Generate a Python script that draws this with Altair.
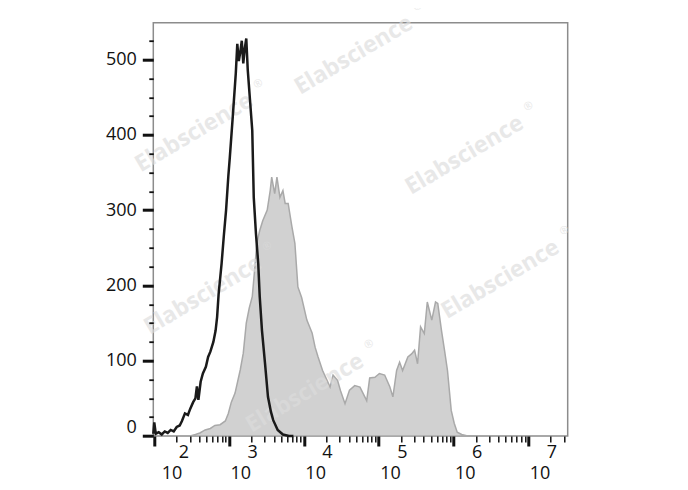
import altair as alt
import pandas as pd

# Unstained control (black line): log10 fluorescence position and event count
black_log = [1.987, 2.00, 2.02, 2.06, 2.10, 2.14, 2.18, 2.22, 2.26, 2.30, 2.34, 2.37, 2.41, 2.45, 2.48,
             2.52, 2.55, 2.57, 2.59, 2.62, 2.65, 2.69, 2.72, 2.75, 2.79, 2.82, 2.84, 2.86, 2.90, 2.93,
             2.96, 2.99, 3.01, 3.05, 3.09, 3.11, 3.13, 3.15, 3.17, 3.19, 3.21, 3.23, 3.25, 3.28, 3.31,
             3.33, 3.36, 3.39, 3.41, 3.44, 3.48, 3.52, 3.56, 3.59, 3.65, 3.72, 3.80, 3.86]
black_count = [3, 18, 3, 5, 2, 6, 4, 8, 6, 12, 14, 20, 30, 28, 36,
               45, 50, 66, 48, 72, 83, 92, 105, 112, 125, 140, 158, 188, 229, 266,
               300, 345, 370, 425, 482, 521, 498, 510, 525, 495, 515, 528, 486, 446, 406,
               317, 268, 229, 185, 140, 97, 52, 32, 21, 8, 2, 0, 0]

# Stained sample (grey filled histogram)
gray_log = [2.48, 2.55, 2.61, 2.68, 2.75, 2.81, 2.88, 2.95, 2.99, 3.03, 3.08, 3.15, 3.19, 3.23, 3.27,
            3.31, 3.35, 3.37, 3.41, 3.45, 3.51, 3.55, 3.57, 3.61, 3.64, 3.68, 3.72, 3.75, 3.79, 3.84,
            3.88, 3.92, 3.97, 4.04, 4.11, 4.15, 4.19, 4.25, 4.31, 4.35, 4.39, 4.45, 4.49, 4.55, 4.61,
            4.68, 4.75, 4.84, 4.88, 4.95, 5.01, 5.08, 5.15, 5.19, 5.24, 5.28, 5.32, 5.39, 5.44, 5.48,
            5.52, 5.56, 5.61, 5.65, 5.71, 5.76, 5.79, 5.84, 5.88, 5.92, 5.97, 6.01, 6.05, 6.11, 6.19]
gray_count = [0, 2, 4, 8, 10, 14, 15, 20, 30, 45, 57, 88, 110, 150, 170,
              185, 230, 256, 273, 286, 300, 326, 344, 322, 344, 317, 326, 309, 309, 278,
              256, 198, 184, 154, 137, 118, 105, 87, 74, 65, 81, 74, 60, 43, 61,
              67, 65, 47, 77, 78, 83, 81, 65, 52, 87, 98, 87, 105, 109, 114,
              96, 145, 136, 178, 154, 178, 176, 140, 114, 87, 34, 17, 5, 2, 0]

# Watermark anchor points (data coordinates)
wm_log = [4.667, 2.533, 6.147, 2.653, 6.627, 4.013]
wm_count = [506, 403, 373, 187, 208, 57]

LOG_MIN, LOG_MAX = 1.987, 7.527
XMIN, XMAX = 10 ** LOG_MIN, 10 ** LOG_MAX

major_x = [10 ** k for k in range(2, 8)]
all_x = sorted(major_x + [m * 10 ** k for k in range(1, 8) for m in range(2, 10)
                          if XMIN <= m * 10 ** k <= XMAX])
all_y = list(range(0, 549, 25))

black_df = pd.DataFrame({"x": [10 ** v for v in black_log], "y": black_count})
gray_df = pd.DataFrame({"x": [10 ** v for v in gray_log], "y": gray_count})
wm_df = pd.DataFrame({"x": [10 ** v for v in wm_log], "y": wm_count})

xscale = alt.Scale(type="log", domain=[XMIN, XMAX], nice=False)
yscale = alt.Scale(domain=[0, 549], nice=False)

IS_DECADE = "abs(log(datum.value) / LN10 - round(log(datum.value) / LN10)) < 0.000001"
IS_HUNDRED = "datum.value % 100 == 0"

# all x ticks (decades long & thick) + base "10" labels
x_tick_axis = alt.Axis(
    orient="bottom", values=all_x, tickColor="#111111",
    tickSize={"condition": {"test": IS_DECADE, "value": 10}, "value": 6},
    tickWidth={"condition": {"test": IS_DECADE, "value": 3}, "value": 1.5},
    labelExpr="(" + IS_DECADE + ") ? '10' : ''",
    labelAlign="left", labelBaseline="top", labelPadding=18.5,
    labelFlush=False, labelOverlap=False, labelBound=False,
    labelOffset={"condition": {"test": "datum.value == 100", "value": 7}, "value": 1},
    domain=False, grid=False, title=None, zindex=1,
)
# exponent labels (superscripts)
x_exp_axis = alt.Axis(
    orient="bottom", values=major_x, ticks=False,
    labelExpr="'' + round(log(datum.value) / LN10)", labelAlign="left", labelBaseline="top",
    labelPadding=8, labelFlush=False, labelOverlap=False, labelBound=False,
    labelOffset={"condition": {"test": "datum.value == 100", "value": 24}, "value": 18},
    domain=False, grid=False, title=None, zindex=1,
)
y_axis = alt.Axis(
    orient="left", values=all_y, tickColor="#111111",
    tickSize={"condition": {"test": IS_HUNDRED, "value": 11}, "value": 4.5},
    tickWidth={"condition": {"test": IS_HUNDRED, "value": 3}, "value": 1.8},
    labelExpr="(" + IS_HUNDRED + ") ? datum.label : ''",
    labelPadding=6, format="d", labelOverlap=False,
    labelOffset={"condition": {"test": "datum.value == 0", "value": -8}, "value": 0},
    domain=False, grid=False, title=None, zindex=1,
)

area = alt.Chart(gray_df).mark_area(
    fill="#d1d1d1", stroke="#a9a9a9", strokeWidth=1.5, interpolate="linear"
).encode(
    x=alt.X("x:Q", scale=xscale, axis=x_tick_axis),
    y=alt.Y("y:Q", scale=yscale, axis=y_axis),
)

wm = alt.Chart(wm_df).mark_text(
    text="Elabscience", angle=329.3, font="Open Sans", fontWeight="bold", fontSize=23,
    color="#dcdcdc", opacity=0.65, align="center", baseline="middle",
).encode(
    x=alt.X("x:Q", scale=xscale, axis=x_exp_axis),
    y=alt.Y("y:Q", scale=yscale, axis=None),
)

reg = alt.Chart(wm_df).mark_text(
    text="®", angle=329.3, font="Open Sans", fontSize=11, dx=80, dy=-9,
    color="#dcdcdc", opacity=0.65, align="center", baseline="middle",
).encode(
    x=alt.X("x:Q", scale=xscale, axis=None),
    y=alt.Y("y:Q", scale=yscale, axis=None),
)

line = alt.Chart(black_df).mark_line(
    color="#1a1a1a", strokeWidth=2.5, interpolate="linear"
).encode(
    x=alt.X("x:Q", scale=xscale, axis=None),
    y=alt.Y("y:Q", scale=yscale, axis=None),
)

chart = alt.layer(area, wm, reg, line).resolve_axis(
    x="independent", y="independent"
).properties(
    width=414.4, height=413.3,
    padding={"left": 145.3, "top": 14.7, "right": 100, "bottom": 60},
    autosize=alt.AutoSizeParams(type="none"),
    background="white",
).configure_view(
    stroke="#8c8c8c", strokeWidth=1.5
).configure_axis(
    labelFont="Open Sans", labelFontSize=18, labelColor="#111111",
)

chart.save("out.html", embed_options={"renderer": "svg", "actions": False})
